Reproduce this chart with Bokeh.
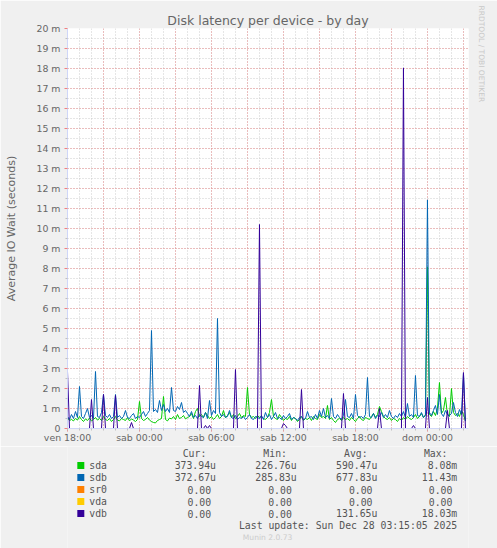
import numpy as np
from bokeh.core.properties import value
from bokeh.embed import file_html
from bokeh.layouts import column
from bokeh.models import FixedTicker, Range1d, SingleIntervalTicker, Title
from bokeh.plotting import figure
from bokeh.resources import INLINE

# one slot = 10 minutes, slot 0 = ven 18:00
sda_ms = [
    0.55, 0.40, 0.45, 0.38, 0.50, 0.42, 0.60, 0.45, 0.35, 0.48, 0.40, 0.52, 0.38, 0.45, 0.55, 0.42, 0.50, 0.40, 0.60, 0.45,
    0.40, 0.50, 0.35, 0.45, 0.60, 0.42, 0.38, 0.50, 0.45, 0.40, 0.55, 0.38, 0.48, 0.42, 0.35, 0.45, 1.35, 0.50, 0.40, 0.45,
    0.55, 0.42, 0.35, 0.30, 0.28, 0.40, 0.45, 0.50, 1.60, 0.45, 0.38, 0.52, 0.48, 0.60, 0.45, 0.70, 0.50, 0.55, 0.65, 0.48,
    0.55, 0.60, 0.75, 0.50, 0.85, 1.00, 0.60, 0.70, 0.55, 0.80, 0.65, 0.50, 0.60, 0.45, 0.55, 0.70, 0.50, 0.60, 0.90, 0.55,
    0.65, 0.80, 0.55, 0.70, 0.50, 0.60, 0.75, 0.55, 0.65, 0.60, 2.05, 0.70, 0.55, 0.60, 0.50, 0.65, 0.55, 0.60, 0.50, 0.45,
    0.55, 0.80, 1.45, 0.60, 0.50, 0.45, 0.70, 0.55, 0.40, 0.50, 0.45, 0.60, 0.40, 0.55, 0.50, 0.35, 0.45, 0.60, 0.40, 0.50,
    0.45, 0.55, 0.40, 0.60, 0.50, 0.45, 0.70, 0.55, 0.60, 0.50, 1.15, 0.45, 0.55, 0.40, 0.30, 0.45, 0.50, 0.40, 0.55, 0.45,
    0.50, 0.40, 0.55, 0.45, 0.35, 0.50, 0.60, 0.45, 0.40, 0.55, 0.50, 0.45, 0.60, 0.75, 0.55, 0.70, 1.10, 0.85, 0.60, 0.50,
    0.45, 0.55, 0.40, 0.50, 0.45, 0.35, 0.50, 0.40, 0.55, 0.45, 0.60, 0.50, 0.45, 0.55, 0.70, 0.50, 0.60, 0.75, 0.55, 0.65,
    8.08, 0.70, 0.60, 0.85, 0.65, 1.00, 2.30, 0.75, 0.90, 1.55, 0.70, 0.60, 2.00, 0.80, 0.65, 0.75, 0.60, 0.90, 0.70, 0.37,
]
sdb_ms = [
    0.60, 0.45, 0.70, 0.50, 0.85, 0.55, 2.10, 0.60, 0.50, 0.75, 1.00, 0.55, 0.65, 0.50, 2.85, 0.60, 0.55, 0.80, 1.70, 0.65,
    0.55, 0.70, 0.50, 0.60, 1.70, 0.55, 0.65, 0.50, 0.60, 0.90, 0.55, 0.50, 0.65, 0.75, 0.50, 0.60, 0.55, 0.70, 0.85, 0.60,
    0.75, 0.90, 4.90, 0.85, 0.95, 0.80, 1.40, 0.90, 1.20, 0.85, 1.00, 0.80, 2.05, 0.90, 0.85, 1.10, 0.95, 1.30, 0.80, 0.90,
    0.75, 0.60, 0.85, 0.55, 0.65, 0.50, 0.70, 0.60, 0.55, 0.80, 0.50, 1.40, 0.65, 0.90, 0.75, 5.50, 0.80, 0.60, 0.70, 0.55,
    0.60, 0.90, 0.55, 0.50, 0.65, 0.45, 0.55, 0.50, 0.60, 0.45, 0.55, 0.70, 0.50, 0.45, 0.60, 0.55, 0.50, 0.65, 0.45, 0.80,
    0.55, 0.70, 0.45, 0.60, 0.80, 0.50, 0.55, 0.45, 0.65, 0.50, 0.60, 0.75, 0.45, 0.55, 0.50, 0.40, 0.55, 0.60, 0.45, 0.50,
    0.85, 0.55, 0.60, 0.45, 0.70, 0.50, 0.90, 0.60, 1.00, 0.55, 0.65, 0.50, 1.50, 0.60, 0.50, 0.70, 0.55, 0.45, 0.65, 1.45,
    0.60, 0.55, 0.75, 0.50, 1.70, 0.65, 0.55, 0.60, 0.50, 0.70, 2.55, 0.60, 0.55, 0.75, 0.50, 0.65, 0.60, 0.80, 0.55, 0.70,
    0.55, 0.90, 0.60, 0.50, 0.65, 0.55, 0.75, 0.60, 0.85, 0.55, 1.25, 0.60, 0.70, 0.55, 2.65, 0.65, 0.60, 0.80, 0.55, 0.70,
    11.43, 0.80, 0.65, 0.90, 1.15, 0.70, 1.70, 0.75, 0.60, 0.90, 0.70, 0.65, 0.75, 1.30, 0.80, 0.60, 0.95, 0.70, 2.75, 0.37,
]
# vdb is zero except for these slots
vdb_peak_slot = [0, 12, 18, 24, 32, 66, 69, 71, 84, 96, 108, 109, 117, 138, 156, 168, 173, 180, 190, 198]
vdb_peak_ms = [2.85, 1.45, 1.7, 1.65, 0.3, 2.15, 0.15, 0.15, 2.95, 10.2, 0.25, 0.15, 1.95, 1.75, 1.0, 18.03, 0.15, 1.55, 0.9, 2.8]

series_names = ["sda", "sdb", "sr0", "vda", "vdb"]
series_colors = ["#00CC00", "#0066B3", "#FF8000", "#FFCC00", "#330099"]
stat_headers = ["Cur:", "Min:", "Avg:", "Max:"]
stat_cur = ["373.94u", "372.67u", "0.00", "0.00", "0.00"]
stat_min = ["226.76u", "285.83u", "0.00", "0.00", "0.00"]
stat_avg = ["590.47u", "677.83u", "0.00", "0.00", "131.65u"]
stat_max = ["8.08m", "11.43m", "0.00", "0.00", "18.03m"]

x_tick_hours = [0, 6, 12, 18, 24, 30]
x_tick_labels = ["ven 18:00", "sab 00:00", "sab 06:00", "sab 12:00", "sab 18:00", "dom 00:00"]
y_ticks = list(range(21))
y_tick_labels = ["0"] + ["%d m" % v for v in range(1, 21)]

n = len(sda_ms)
hours = np.arange(n) / 6.0
vdb_ms = np.zeros(n)
vdb_ms[vdb_peak_slot] = vdb_peak_ms
zeros = np.zeros(n)

FONT = "DejaVu Sans"
MONO = "DejaVu Sans Mono"
TEXT = "#666666"
LEG = "#555555"
AXIS = "#CFD6F8"
BACK = "#F0F0F0"

# ---- graph part
p = figure(width=497, height=446, output_backend="svg", toolbar_location=None,
           x_range=Range1d(0, 33.42), y_range=Range1d(0, 20),
           min_border_left=67, min_border_right=29, min_border_top=28, min_border_bottom=18)
p.background_fill_color = "white"
p.border_fill_color = BACK
p.outline_line_color = None

p.title.text = "Disk latency per device - by day"
p.title.align = "center"
p.title.offset = -19
p.title.standoff = 2
p.title.text_font = FONT
p.title.text_font_size = "12.5px"
p.title.text_font_style = "normal"
p.title.text_color = TEXT

p.add_layout(Title(text="RRDTOOL / TOBI OETIKER", align="left", offset=-23, standoff=17,
                   text_font=FONT, text_font_size="7.5px", text_font_style="normal",
                   text_color="#C8C8C8"), "right")

# grid
p.xgrid.ticker = SingleIntervalTicker(interval=3, num_minor_ticks=3)
p.ygrid.ticker = SingleIntervalTicker(interval=1, num_minor_ticks=2)
for g in (p.xgrid, p.ygrid):
    g.grid_line_color = "#F08080"
    g.grid_line_alpha = 0.8
    g.grid_line_dash = "1 2"
    g.minor_grid_line_color = "#C0C0C0"
    g.minor_grid_line_alpha = 0.8
    g.minor_grid_line_dash = "1 2"

# axes
xa = p.xaxis[0]
xa.ticker = FixedTicker(ticks=x_tick_hours, minor_ticks=list(range(0, 34)))
xa.major_label_overrides = {h: lab for h, lab in zip(x_tick_hours, x_tick_labels)}
ya = p.yaxis[0]
ya.ticker = FixedTicker(ticks=y_ticks, minor_ticks=[v + 0.5 for v in range(20)])
ya.major_label_overrides = {t: lab for t, lab in zip(y_ticks, y_tick_labels)}
ya.axis_label = "Average IO Wait (seconds)"
ya.axis_label_text_font = FONT
ya.axis_label_text_font_size = "11px"
ya.axis_label_text_font_style = "normal"
ya.axis_label_text_color = TEXT
ya.axis_label_standoff = 15
for a in (xa, ya):
    a.axis_line_color = AXIS
    a.major_tick_in = 0
    a.major_tick_out = 3
    a.minor_tick_in = 0
    a.minor_tick_out = 2
    a.major_tick_line_color = "#F08080"
    a.minor_tick_line_color = "#C0C0C0"
    a.major_label_text_font = FONT
    a.major_label_text_font_size = "9.4px"
    a.major_label_text_color = TEXT
xa.major_label_standoff = 0
ya.major_label_standoff = 4

for name, vals, col in zip(series_names, [sda_ms, sdb_ms, zeros, zeros, vdb_ms], series_colors):
    p.line(hours, vals, line_color=col, line_width=1)

# ---- legend part, drawn in page pixels
leg = figure(width=497, height=102, output_backend="svg", toolbar_location=None,
             x_range=Range1d(0, 497), y_range=Range1d(548, 446),
             x_axis_location=None, y_axis_location=None, min_border=0)
leg.background_fill_color = BACK
leg.border_fill_color = BACK
leg.outline_line_color = None
leg.grid.visible = False

row_y = [465 + 12 * r for r in range(len(series_names))]
col_end = [184, 284, 384, 483]
mono = dict(text_font=value(MONO), text_font_size="9.8px", text_color=LEG, text_baseline="middle")

leg.scatter([16.5] * len(series_names), row_y, marker="square", size=7,
            fill_color=series_colors, line_color=None)
leg.text([27] * len(series_names), row_y, text=series_names, text_align="left", **mono)
leg.text([c - 12 for c in col_end], [453] * 4, text=stat_headers, text_align="right", **mono)
for stat, ce in zip([stat_cur, stat_min, stat_avg, stat_max], col_end):
    xs = [ce if s[-1] in "um" else ce - 6 for s in stat]
    leg.text(xs, row_y, text=stat, text_align="right", **mono)
leg.text([483], [525], text=["Last update: Sun Dec 28 03:15:05 2025"], text_align="right", **mono)
leg.text([248], [537], text=["Munin 2.0.73"], text_align="center", text_baseline="middle",
         text_font=value(FONT), text_font_size="7.6px", text_color="#CCCCCC")

layout = column(p, leg, spacing=0)
open("out.html", "w").write(file_html(layout, INLINE))
